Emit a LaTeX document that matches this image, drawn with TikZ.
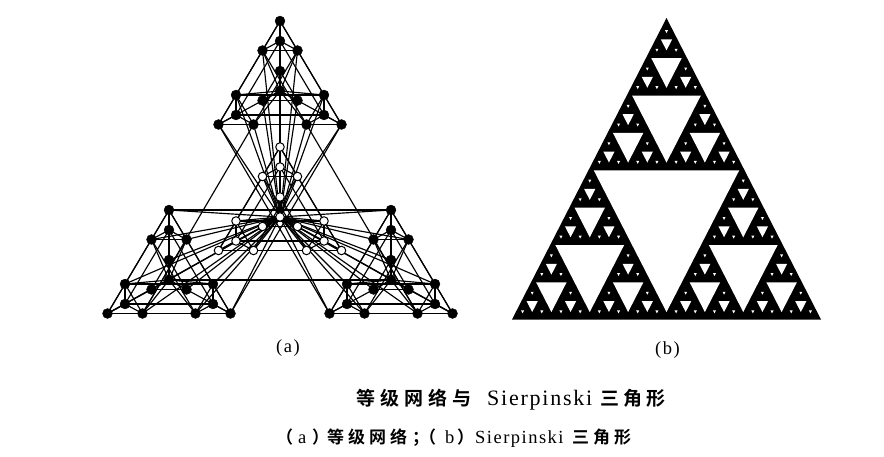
\documentclass[tikz,border=0pt]{standalone}
\usepackage{fontspec}
\setmainfont{Liberation Serif}
\newfontfamily\cjkb{Noto Sans CJK SC Bold}
\newfontfamily\wide[LetterSpace=8]{Liberation Serif}
\def\sierp#1#2#3#4{\ifnum#4>0\relax
 \begingroup
 \pgfmathsetmacro\hw{#3/2}%
 \pgfmathsetmacro\hh{\hw*0.974}%
 \pgfmathsetmacro\hole{max(\hw-8,3)/2}%
 \pgfmathsetmacro\ytop{#2+\hh+1.8}%
 \pgfmathsetmacro\ybot{\ytop+2*\hole*0.974}%
 \pgfmathsetmacro\xa{#1-\hole}%
 \pgfmathsetmacro\xb{#1+\hole}%
 \fill[white] (\xa,\ytop) -- (\xb,\ytop) -- (#1,\ybot) -- cycle;
 \pgfmathsetmacro\xl{#1-\hw/2}%
 \pgfmathsetmacro\xr{#1+\hw/2}%
 \pgfmathsetmacro\ym{#2+\hh}%
 \pgfmathtruncatemacro\dd{#4-1}%
 \edef\nxt{\noexpand\sierp{#1}{#2}{\hw}{\dd}\noexpand\sierp{\xl}{\ym}{\hw}{\dd}\noexpand\sierp{\xr}{\ym}{\hw}{\dd}}%
 \nxt
 \endgroup
 \fi}
\tikzset{
  link/.style={black,line width=1.15pt},
  solidv/.style={circle,fill=black,draw=black,line width=0.3pt,minimum size=10pt,inner sep=0pt},
  openv/.style={circle,fill=white,draw=black,line width=1pt,minimum size=8.5pt,inner sep=0pt},
  caption/.style={inner sep=0pt,anchor=base west},
  bigcn/.style={caption,font=\fontsize{19}{21}\selectfont\cjkb},
  bigla/.style={caption,font=\fontsize{22}{24}\selectfont\wide},
  smcn/.style={caption,font=\fontsize{17}{19}\selectfont\cjkb},
  smla/.style={caption,font=\fontsize{18.5}{20}\selectfont\wide}
}
\begin{document}
\begin{tikzpicture}[x=1pt,y=-1pt]
\useasboundingbox (0,0) rectangle (884,457);
\fill[white] (0,0) rectangle (884,457);
% hierarchical network: coordinates first
\foreach \c/\cx/\cy in {t/0/-126,l/-111/63,r/111/63,m/0/0}{
 \foreach \u/\ux/\uy in {t/0/-50,l/-44/24,r/44/24,m/0/0}{
  \foreach \k/\kx/\ky in {T/0/-20,O/0/0,L/-17.5/9.5,R/17.5/9.5}{
    \coordinate (p\c\u\k) at ({280+\cx+\ux+\kx},{217+\cy+\uy+\ky});
  }}}
% edges
\foreach \c in {t,l,r,m}{
 \foreach \u in {t,l,r,m}{
  \foreach \a/\b in {T/O,O/L,O/R,T/L,T/R,L/R}{
    \draw[link] (p\c\u\a) -- (p\c\u\b);
  }}
 \foreach \a/\b in {tT/lT,tT/rT,lT/rT,lO/rO,lL/rL,lR/rR,tL/lL,tR/lR,tL/rL,tR/rR,tO/lO,tO/rO}{
    \draw[link] (p\c\a) -- (p\c\b);
 }
 \foreach \u in {t,l,r}{
  \foreach \k in {T,L,R}{
    \draw[link] (p\c\u\k) -- (p\c mO);
  }}
}
\foreach \c in {t,l,r}{
 \foreach \u in {t,l,r,m}{
  \foreach \k in {T,L,R}{
    \draw[link] (p\c\u\k) -- (pmmO);
  }}}
\foreach \a/\b in {ltT/rtT,lmO/rmO,tlR/llR,trR/lrR,tlL/rlL,trL/rrL}{
  \draw[link] (p\a) -- (p\b);
}
% vertices
\foreach \c/\st in {t/solidv,l/solidv,r/solidv,m/openv}{
 \foreach \u in {t,l,r,m}{
  \foreach \k in {T,O,L,R}{
    \node[\st] (n\c\u\k) at (p\c\u\k) {};
  }}}
% Sierpinski triangle
\fill[black] (666.5,18) -- (821,319.5) -- (512,319.5) -- cycle;
\sierp{666.5}{19}{307}{5}
% labels
\node[smla] (la) at (276,352) {(a)};
\node[smla] (lb) at (655,354) {(b)};
\foreach \t/\x [count=\i] in {等/356,级/380,网/404,络/428,与/452,三/600,角/623,形/646}{
  \node[bigcn] (tc\i) at (\x,405) {\t};
}
\node[bigla] (tl) at (487,405) {Sierpinski};
\node[smla] (s1) at (298,443) {a};
\node[smla] (s2) at (445,443) {b};
\foreach \t/\x [count=\i] in {（/276,）/312,等/327,级/348,网/369,络/390,）/457,三/572,角/593,形/614}{
  \node[smcn] (sc\i) at (\x,443) {\t};
}
\node[smcn] (sep) at (412,443) {；\kern-10pt（};
\node[smla] (sl) at (475,443) {Sierpinski};
\end{tikzpicture}
\end{document}
